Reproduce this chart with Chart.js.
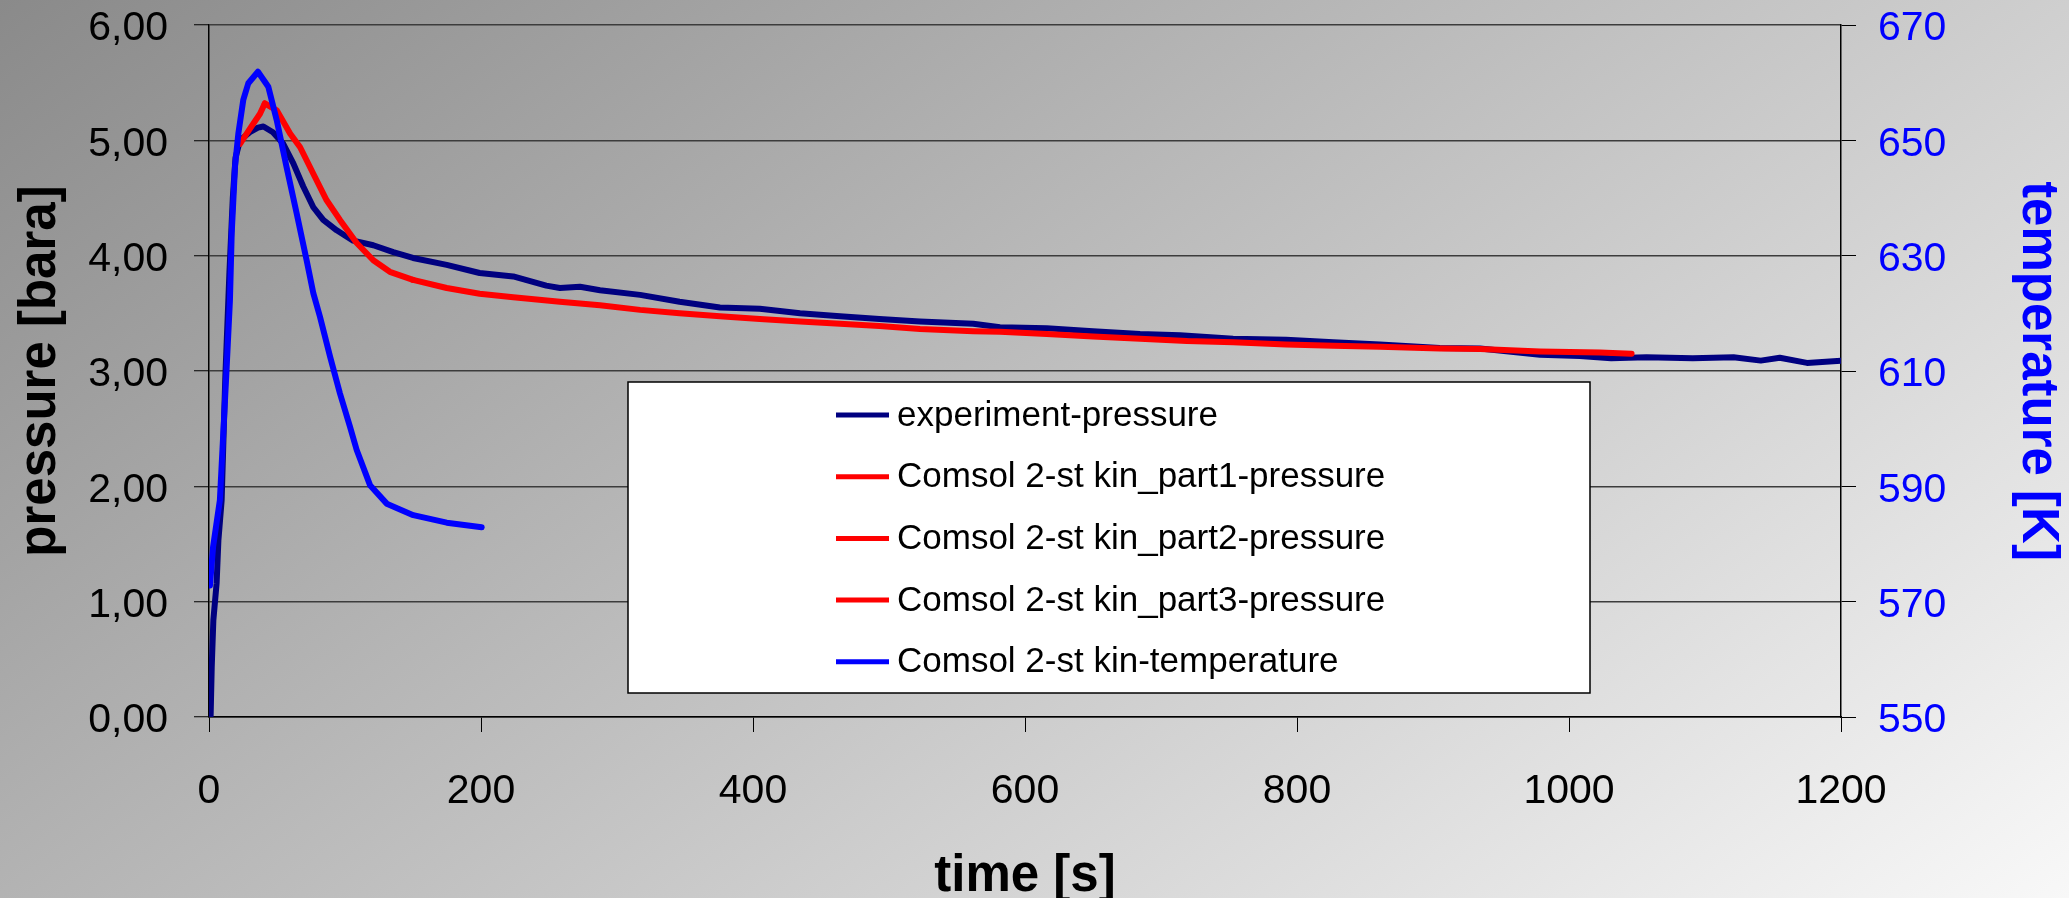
<!DOCTYPE html>
<html>
<head>
<meta charset="utf-8">
<title>pressure / temperature vs time</title>
<script src="https://cdn.jsdelivr.net/npm/chart.js@4.4.0/dist/chart.umd.min.js"></script>
<style>
  html, body { margin: 0; padding: 0; }
  body {
    width: 2069px;
    height: 898px;
    overflow: hidden;
    background: linear-gradient(144deg, #8a8a8a 0%, #f8f8f8 100%);
  }
  #chart { display: block; }
</style>
</head>
<body>
<canvas id="chart" width="2069" height="898"></canvas>
<script>
// experiment (dark blue) - time [s] / pressure [bara]
const expTime = [0, 1.2, 2, 3.2, 5.6, 6.9, 9.3, 12, 15, 17.5, 19.5, 22.8, 30, 36, 40, 47, 54.6, 62, 69.3,
  76.7, 84, 93.9, 106, 120.8, 135.5, 150, 174.8, 199, 223.7, 248, 258, 272.8, 287.5, 317, 346,
  375.7, 405, 434.6, 464, 493, 522.8, 562, 581.6, 616, 650, 684.6, 714, 753, 792, 826.7, 861,
  905, 934.6, 978.7, 1008, 1031, 1057, 1091, 1121, 1141, 1155, 1175, 1200];
const expPressure = [0, 0.01, 0.43, 0.84, 1.16, 1.53, 1.88, 2.95, 3.85, 4.5, 4.85, 5.0, 5.07, 5.11, 5.12,
  5.07, 4.97, 4.8, 4.6, 4.42, 4.31, 4.22, 4.13, 4.09, 4.03, 3.98, 3.92, 3.85, 3.82, 3.74, 3.72,
  3.73, 3.7, 3.66, 3.6, 3.55, 3.54, 3.5, 3.475, 3.45, 3.43, 3.41, 3.38, 3.37, 3.345, 3.32, 3.31,
  3.28, 3.27, 3.25, 3.23, 3.2, 3.195, 3.14, 3.13, 3.11, 3.12, 3.11, 3.12, 3.09, 3.115, 3.07, 3.09];

// Comsol model, three parts (red)
const part1Time = [22.8, 30, 37.5, 41];
const part1Pressure = [4.97, 5.1, 5.23, 5.32];
const part2Time = [41, 49.8, 59.6, 67, 76.7, 86.5, 96.3, 108.6, 120.8, 133, 150];
const part2Pressure = [5.32, 5.26, 5.06, 4.94, 4.71, 4.48, 4.31, 4.11, 3.96, 3.86, 3.79];
const part3Time = [150, 174.8, 199, 223.7, 258, 287.5, 317, 346, 375.7, 405, 434.6, 464, 493, 522.8,
  562, 581.6, 616, 650, 684.6, 719, 753, 792, 826.7, 861, 905, 934.6, 978.7, 1022.8, 1046];
const part3Pressure = [3.79, 3.72, 3.67, 3.64, 3.6, 3.57, 3.53, 3.5, 3.475, 3.45, 3.43, 3.41, 3.39,
  3.365, 3.345, 3.34, 3.32, 3.3, 3.28, 3.26, 3.25, 3.23, 3.22, 3.21, 3.195, 3.19, 3.17, 3.16, 3.15];

// Comsol temperature [K] (blue, right axis)
const tempTime = [0.7, 3, 8, 10.5, 13, 15.4, 16.7, 19.1, 21.6, 25.2, 28.9, 36, 43.6, 49.8, 57, 64.5,
  71.8, 76.7, 81.6, 89, 96.3, 103.7, 108.6, 118.4, 130.7, 150.2, 174.8, 200.5];
const tempValues = [572.8, 579.5, 587.6, 599.2, 610.7, 622.3, 633.9, 645.4, 651.2, 657, 659.9, 661.9,
  659.3, 653.5, 645.4, 637.3, 629.2, 623.5, 619.4, 612.5, 606.1, 600.3, 596.3, 590.2, 587, 585,
  583.7, 582.9];

const seriesNames = [
  "experiment-pressure",
  "Comsol 2-st kin_part1-pressure",
  "Comsol 2-st kin_part2-pressure",
  "Comsol 2-st kin_part3-pressure",
  "Comsol 2-st kin-temperature",
];

const FONT = "'Liberation Sans', Arial, sans-serif";
Chart.defaults.font.family = FONT;

const toPoints = (xs, ys) => xs.map((x, i) => ({ x: x, y: ys[i] }));

function lineSet(label, xs, ys, color, axis, order) {
  return {
    label: label,
    data: toPoints(xs, ys),
    borderColor: color,
    backgroundColor: color,
    borderWidth: 6,
    pointRadius: 0,
    tension: 0,
    borderJoinStyle: "round",
    borderCapStyle: "round",
    yAxisID: axis,
    order: order,
  };
}

// fixed axis box sizes so the plot area sits where the original has it
function fixSide(width) {
  return (s) => {
    s.width = width;
    s.paddingTop = 0;
    s.paddingBottom = 0;
  };
}

// legend drawn as a white box inside the plot, like the original
const boxLegend = {
  id: "boxLegend",
  afterDatasetsDraw(chart, args, o) {
    const ctx = chart.ctx;
    ctx.save();
    ctx.fillStyle = "#fff";
    ctx.fillRect(o.left, o.top, o.width, o.height);
    ctx.strokeStyle = "#000";
    ctx.lineWidth = 1.5;
    ctx.strokeRect(o.left, o.top, o.width, o.height);
    ctx.font = o.fontSize + "px " + FONT;
    ctx.textBaseline = "middle";
    chart.data.datasets.forEach((ds, i) => {
      const y = o.firstRow + i * o.rowGap;
      ctx.strokeStyle = ds.borderColor;
      ctx.lineWidth = 5;
      ctx.beginPath();
      ctx.moveTo(o.lineX, y);
      ctx.lineTo(o.lineX + o.lineLen, y);
      ctx.stroke();
      ctx.fillStyle = "#000";
      ctx.fillText(ds.label, o.textX, y + 1);
    });
    ctx.restore();
  },
};

const ctx = document.getElementById("chart");

new Chart(ctx, {
  type: "line",
  data: {
    datasets: [
      lineSet(seriesNames[0], expTime, expPressure, "#000080", "y", 3),
      lineSet(seriesNames[1], part1Time, part1Pressure, "#ff0000", "y", 2),
      lineSet(seriesNames[2], part2Time, part2Pressure, "#ff0000", "y", 2),
      lineSet(seriesNames[3], part3Time, part3Pressure, "#ff0000", "y", 2),
      lineSet(seriesNames[4], tempTime, tempValues, "#0000ff", "y2", 1),
    ],
  },
  plugins: [boxLegend],
  options: {
    responsive: false,
    animation: false,
    devicePixelRatio: 1,
    layout: { padding: { top: 25, left: 0, right: 0, bottom: 0 } },
    plugins: {
      legend: { display: false },
      tooltip: { enabled: false },
      boxLegend: {
        left: 628, top: 382, width: 962, height: 311,
        lineX: 836, lineLen: 53, textX: 897,
        firstRow: 415, rowGap: 61.7, fontSize: 35,
      },
    },
    scales: {
      x: {
        type: "linear",
        min: 0,
        max: 1200,
        ticks: {
          stepSize: 200,
          color: "#000",
          font: { size: 41 },
          padding: 35,
          maxRotation: 0,
          callback: (v) => String(v),
        },
        grid: { drawOnChartArea: false, tickLength: 15, tickColor: "#000", tickWidth: 1 },
        border: { color: "#000", width: 1.5 },
        title: {
          display: true,
          text: "time [s]",
          color: "#000",
          font: { size: 51, weight: "bold" },
          padding: { top: 0, bottom: -10 },
        },
        afterFit: (s) => { s.height = 181; },
      },
      y: {
        position: "left",
        min: 0,
        max: 6,
        ticks: {
          stepSize: 1,
          color: "#000",
          font: { size: 41 },
          padding: 26,
          labelOffset: 4,
          callback: (v) => v.toFixed(2).replace(".", ","),
        },
        grid: { color: "#3c3c3c", lineWidth: 1.5, tickLength: 15, tickColor: "#000", tickWidth: 1 },
        border: { color: "#000", width: 1.5 },
        title: {
          display: true,
          text: "pressure [bara]",
          color: "#000",
          font: { size: 51, weight: "bold" },
          padding: { top: 10, bottom: 0 },
        },
        afterFit: fixSide(209),
      },
      y2: {
        position: "right",
        min: 550,
        max: 670,
        ticks: {
          stepSize: 20,
          color: "#0000ff",
          font: { size: 41 },
          padding: 22,
          labelOffset: 4,
        },
        grid: { drawOnChartArea: false, tickLength: 15, tickColor: "#000", tickWidth: 1 },
        border: { color: "#000", width: 1.5 },
        title: {
          display: true,
          text: "temperature [K]",
          color: "#0000ff",
          font: { size: 51, weight: "bold" },
          padding: { top: 1, bottom: 0 },
        },
        afterFit: fixSide(228),
      },
    },
  },
});
</script>
</body>
</html>
